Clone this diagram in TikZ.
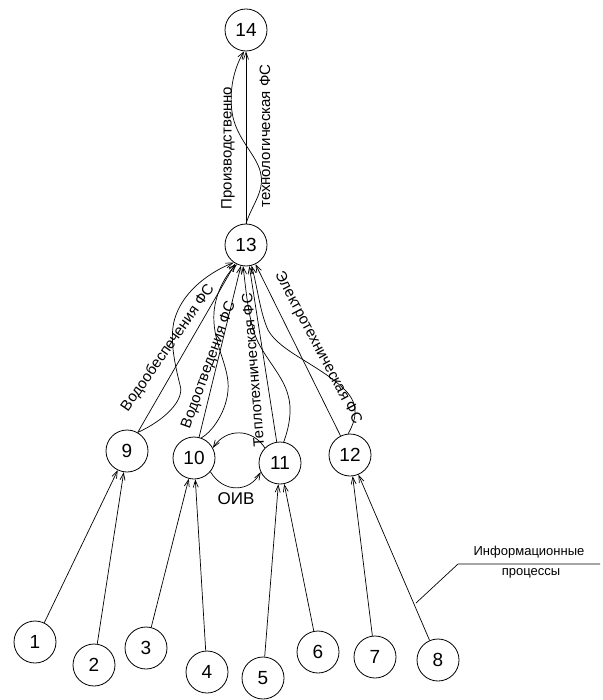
\documentclass[tikz,border=0pt]{standalone}
\usepackage{fontspec}
\setmainfont{Liberation Sans}
\usetikzlibrary{arrows.meta}
\begin{document}
\begin{tikzpicture}[x=1pt,y=-1pt,
  circ/.style={circle,draw,line width=0.8pt,minimum size=42pt,inner sep=0pt,font=\fontsize{19}{19}\selectfont},
  arr/.style={line width=0.7pt,-{Straight Barb[length=7pt,width=5pt]}},
  plain/.style={line width=0.7pt},
  lbl/.style={inner sep=0pt,font=\fontsize{15}{15}\selectfont}]
\useasboundingbox (0,0) rectangle (602,700);
% nodes
\node[circ] (n14) at (246,30) {14};
\node[circ] (n13) at (246,245) {13};
\node[circ] (n9) at (127,451) {9};
\node[circ] (n10) at (194,458) {10};
\node[circ] (n11) at (280,463) {11};
\node[circ] (n12) at (350,455) {12};
\node[circ] (n1) at (35,642) {1};
\node[circ] (n2) at (94,665) {2};
\node[circ] (n3) at (146,648) {3};
\node[circ] (n4) at (207,672) {4};
\node[circ] (n5) at (263,678) {5};
\node[circ] (n6) at (318,652) {6};
\node[circ] (n7) at (375,657) {7};
\node[circ] (n8) at (438,660) {8};
% bottom edges
\draw[arr] (n1) -- (n9);
\draw[arr] (n2) -- (n9);
\draw[arr] (n3) -- (n10);
\draw[arr] (n4) -- (n10);
\draw[arr] (n5) -- (n11);
\draw[arr] (n6) -- (n11);
\draw[arr] (n7) -- (n12);
\draw[arr] (n8) -- (n12);
% middle straight edges
\draw[arr] (n9) -- (n13);
\draw[arr] (n10) -- (n13);
\draw[arr] (n11) -- (n13);
\draw[arr] (n12) -- (n13);
% middle curved edges
\draw[arr] (n9.60) .. controls (165,420) and (185,400) .. (180,385)
  .. controls (175,365) and (168,335) .. (176,315)
  .. controls (185,290) and (210,272) .. (n13.235);
\draw[arr] (n10.70) .. controls (215,430) and (230,405) .. (228,382)
  .. controls (226,360) and (212,340) .. (214,312)
  .. controls (216,290) and (228,272) .. (n13.245);
\draw[arr] (n11.80) .. controls (290,425) and (292,408) .. (288,395)
  .. controls (283,375) and (262,355) .. (255,335)
  .. controls (248,315) and (246,290) .. (n13.262);
\draw[arr] (n12.95) .. controls (356,420) and (360,405) .. (345,390)
  .. controls (320,365) and (280,352) .. (268,330)
  .. controls (260,312) and (258,290) .. (n13.285);
% 13 -> 14
\draw[arr] (n13) -- (n14);
\draw[arr] (n13.90) .. controls (252,205) and (264,192) .. (261,175)
  .. controls (258,155) and (236,140) .. (232,112)
  .. controls (229,90) and (234,68) .. (n14.265);
% 10 <-> 11 loop
\draw[arr] (n11.135) .. controls (252,428) and (226,428) .. (n10.28);
\draw[arr] (n10.-40) .. controls (224,494) and (250,492) .. (n11.205);
\node[inner sep=0pt,font=\fontsize{17}{17}\selectfont] (oiv) at (236,499) {ОИВ};
% labels
\node[lbl,rotate=90] (lp1) at (228,148) {Производственно};
\node[lbl,rotate=90] (lp2) at (265,136) {технологическая ФС};
\node[lbl,rotate=55] (lv1) at (168,348) {Водообеспечения ФС};
\node[lbl,rotate=70] (lv2) at (209,365) {Водоотведения ФС};
\node[lbl,rotate=94.5] (lt) at (253,370) {Теплотехническая ФС};
\node[lbl,rotate=-62] (le) at (318,348) {Электротехническая ФС};
% callout
\coordinate (c1) at (416,603);
\coordinate (c2) at (458,564);
\coordinate (c3) at (600,564);
\draw[plain] (c1) -- (c2) -- (c3);
\node[lbl,font=\fontsize{13}{13}\selectfont] (ip1) at (529,552) {Информационные};
\node[lbl,font=\fontsize{13}{13}\selectfont] (ip2) at (531,573) {процессы};
\end{tikzpicture}
\end{document}
